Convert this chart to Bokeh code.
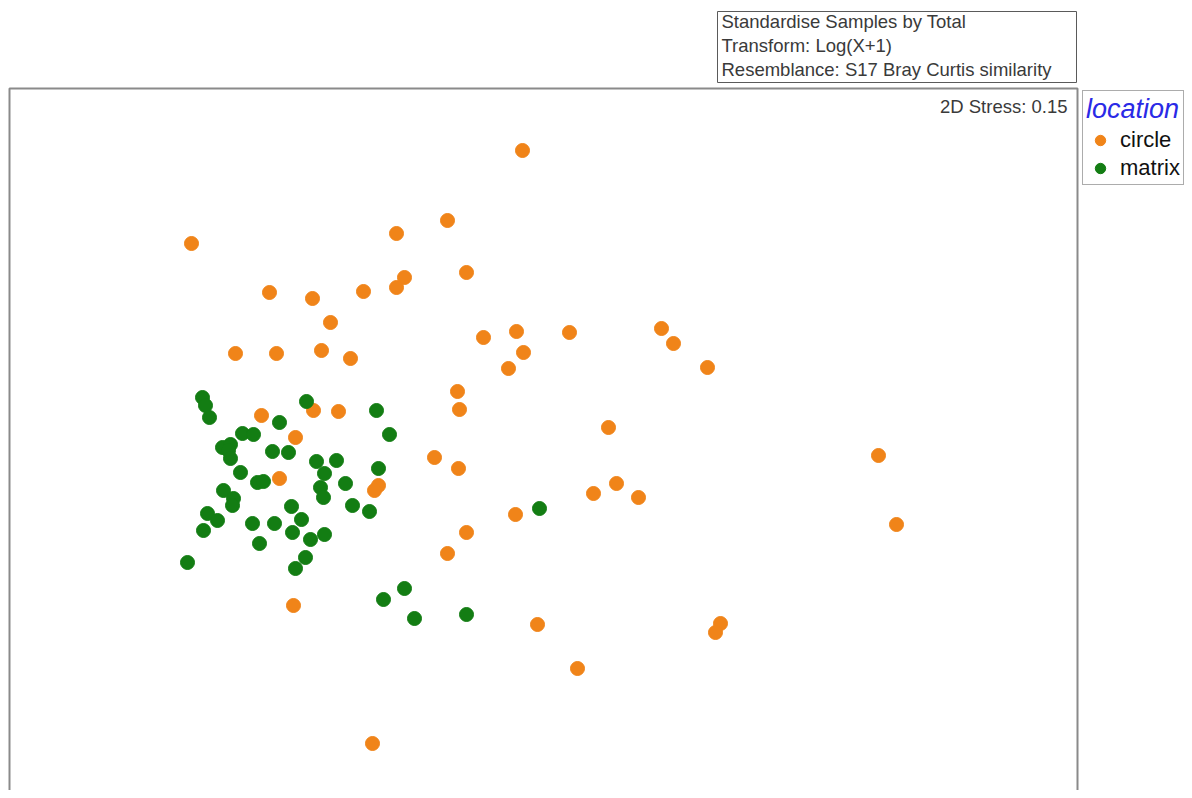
from bokeh.plotting import figure
from bokeh.models import Range1d, BoxAnnotation, Legend, LegendItem
from bokeh.core.properties import value
from bokeh.embed import file_html
from bokeh.resources import INLINE

# nMDS ordination coordinates (plot units, y downward)
circle_x = [522, 191, 447, 396, 466, 404, 396, 269, 312, 363, 330, 235, 276, 321, 350,
            483, 516, 569, 661, 673, 707, 523, 508, 457, 459, 608, 434, 458, 616, 593,
            638, 515, 466, 447, 878, 896, 293, 537, 577, 720, 715, 372,
            261, 313, 338, 295, 279, 378, 374]
circle_y = [150, 243, 220, 233, 272, 277, 287, 292, 298, 291, 322, 353, 353, 350, 358,
            337, 331, 332, 328, 343, 367, 352, 368, 391, 409, 427, 457, 468, 483, 493,
            497, 514, 532, 553, 455, 524, 605, 624, 668, 623, 632, 743,
            415, 410, 411, 437, 478, 485, 490]

matrix_x = [202, 205, 209, 306, 376, 279, 242, 253, 389, 222, 230, 228, 230, 272, 288,
            316, 336, 324, 378, 240, 257, 263, 345, 320, 323, 223, 233, 232, 352, 369,
            291, 207, 217, 203, 252, 274, 301, 292, 310, 324, 259, 305, 295, 187,
            539, 383, 404, 414, 466]
matrix_y = [397, 405, 417, 401, 410, 422, 433, 434, 434, 447, 444, 450, 458, 451, 452,
            461, 460, 473, 468, 472, 482, 481, 483, 487, 497, 490, 498, 505, 505, 511,
            506, 513, 520, 530, 523, 523, 519, 532, 539, 534, 543, 557, 568, 562,
            508, 599, 588, 618, 614]

setup_lines = ["Standardise Samples by Total",
               "Transform: Log(X+1)",
               "Resemblance: S17 Bray Curtis similarity"]
stress_text = "2D Stress: 0.15"
legend_title = "location"
groups = ["circle", "matrix"]
colors = ["#F08419", "#137D13"]

FONT = "Liberation Sans"

p = figure(width=1184, height=790, output_backend="svg", toolbar_location=None,
           x_range=Range1d(0, 1184), y_range=Range1d(790, 0),
           x_axis_location=None, y_axis_location=None, min_border=0)
p.outline_line_color = None
p.xgrid.visible = False
p.ygrid.visible = False
p.background_fill_color = "white"
p.border_fill_color = "white"

# plot frame
p.add_layout(BoxAnnotation(left=9, right=1077, top=88, bottom=806,
                           fill_alpha=0, line_color="#8a8a8a", line_alpha=1,
                           line_width=2))
# setup info box
p.add_layout(BoxAnnotation(left=717, right=1076, top=11, bottom=82,
                           fill_alpha=0, line_color="#5a5a5a", line_alpha=1,
                           line_width=1))

p.text(x=[721, 721, 721], y=[21, 45, 69], text=setup_lines,
       text_font=value(FONT), text_font_size=value("18.5px"),
       text_color="#3a3a3a", text_baseline="middle", text_align="left")
p.text(x=[1067], y=[106], text=[stress_text],
       text_font=value(FONT), text_font_size=value("18.5px"),
       text_color="#3a3a3a", text_baseline="middle", text_align="right")

r1 = p.scatter(circle_x, circle_y, size=14, fill_color=colors[0], line_color=colors[0])
r2 = p.scatter(matrix_x, matrix_y, size=14, fill_color=colors[1], line_color=colors[1])

legend = Legend(items=[LegendItem(label=groups[0], renderers=[r1]),
                       LegendItem(label=groups[1], renderers=[r2])],
                location=(1082, 605), title=legend_title,
                title_text_font=FONT, title_text_font_style="italic",
                title_text_color="#2a2ae6", title_text_font_size="27px",
                label_text_font=FONT, label_text_font_size="22px",
                label_text_color="#111111",
                glyph_width=28, glyph_height=26, label_standoff=6,
                padding=3, spacing=2, margin=0, title_standoff=2,
                border_line_color="#5a5a5a", border_line_width=1,
                background_fill_color="white", background_fill_alpha=1)
p.add_layout(legend)

open("out.html", "w").write(file_html(p, INLINE))
